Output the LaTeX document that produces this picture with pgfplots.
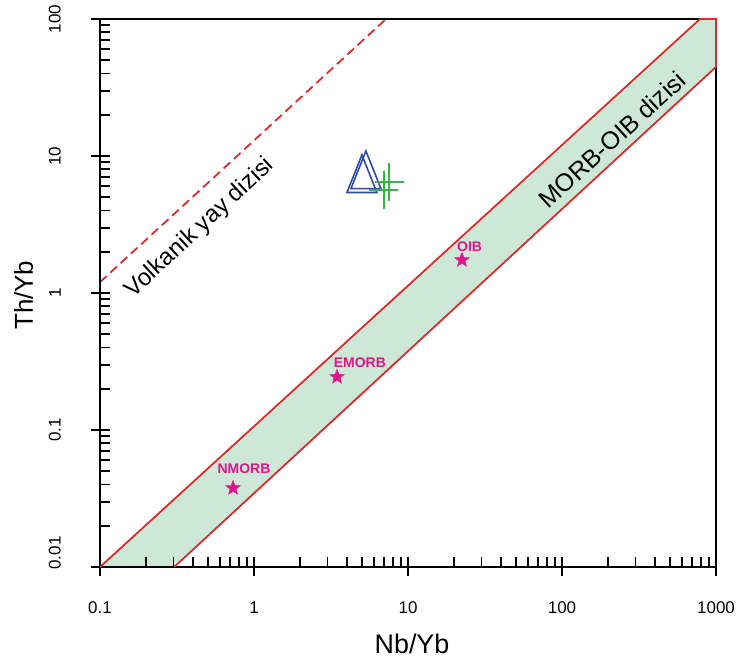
\documentclass[border=0pt]{standalone}
\usepackage{fontspec}
\setmainfont{Liberation Sans}
\usepackage{graphicx}
\usepackage{pgfplots}
\pgfplotsset{compat=1.18}
\usetikzlibrary{plotmarks}
\definecolor{bandfill}{RGB}{205,232,215}
\definecolor{bandred}{RGB}{215,45,45}
\definecolor{starmag}{RGB}{225,20,140}
\definecolor{triblue}{RGB}{45,75,165}
\definecolor{crossgreen}{RGB}{55,180,65}
\pgfdeclareplotmark{fstar}{%
 \pgfpathmoveto{\pgfqpointpolar{90}{\pgfplotmarksize}}%
 \pgfpathlineto{\pgfqpointpolar{126}{0.42\pgfplotmarksize}}%
 \pgfpathlineto{\pgfqpointpolar{162}{\pgfplotmarksize}}%
 \pgfpathlineto{\pgfqpointpolar{198}{0.42\pgfplotmarksize}}%
 \pgfpathlineto{\pgfqpointpolar{234}{\pgfplotmarksize}}%
 \pgfpathlineto{\pgfqpointpolar{270}{0.42\pgfplotmarksize}}%
 \pgfpathlineto{\pgfqpointpolar{306}{\pgfplotmarksize}}%
 \pgfpathlineto{\pgfqpointpolar{342}{0.42\pgfplotmarksize}}%
 \pgfpathlineto{\pgfqpointpolar{18}{\pgfplotmarksize}}%
 \pgfpathlineto{\pgfqpointpolar{54}{0.42\pgfplotmarksize}}%
 \pgfpathclose
 \pgfusepathqfillstroke}
\begin{document}
\begin{tikzpicture}
\begin{axis}[
  at={(0,0)}, anchor=south west,
  scale only axis, width=616bp, height=548bp,
  xmode=log, ymode=log,
  xmin=0.1, xmax=1000, ymin=0.01, ymax=100,
  xtick={0.1,1,10,100,1000}, xticklabels={0.1,1,10,100,1000},
  ytick={0.01,0.1,1,10,100},
  yticklabels={\rotatebox{90}{\hspace*{28bp}0.01},\rotatebox{90}{0.1},\rotatebox{90}{1},\rotatebox{90}{10},\rotatebox{90}{100}},
  tick pos=left,
  tick align=center,
  major tick length=18bp, minor tick length=10bp,
  minor x tick style={yshift=5bp}, minor y tick style={xshift=5bp},
  tick style={black, line width=1.8bp},
  axis line style={black, line width=2.2bp},
  tick label style={font=\fontsize{17}{20}\selectfont},
  xticklabel style={anchor=north, yshift=-22bp},
  yticklabel style={anchor=east, inner sep=0pt, xshift=-30bp},
  xlabel={Nb/Yb}, ylabel={Th/Yb},
  xlabel style={font=\fontsize{27}{30}\selectfont, at={(axis description cs:0.5065,-0.158)}, anchor=base},
  ylabel style={font=\fontsize{26}{30}\selectfont, at={(axis description cs:-0.1088,0.496)}, anchor=base},
  set layers=axis on top,
  clip=false,
]
% MORB-OIB array (band)
\addplot[fill=bandfill, draw=none] coordinates {(0.1,0.01) (0.303,0.01) (1000,44.7) (1000,100) (787,100) (0.1,0.01)};
\addplot[bandred, line width=1.8bp, on layer=axis foreground] coordinates {(0.303,0.01) (1000,44.7) (1000,100) (787,100) (0.1,0.01)};
% volcanic arc array
\addplot[bandred, line width=1.8bp, dash pattern=on 9bp off 5bp] coordinates {(0.1,1.2) (7.2,100)};
% reference compositions
\addplot[only marks, mark=fstar, mark size=7.5bp, starmag, mark options={fill=starmag, line width=0.5bp}] coordinates {(0.731,0.0377) (3.46,0.244) (22.4,1.74)};
% samples
\addplot[only marks, mark=triangle, mark size=17.3bp, triblue, mark options={yscale=1.45, line width=1.6bp}] coordinates {(5.02,6.68) (5.33,7.14)};
\addplot[only marks, mark=+, mark size=14.5bp, crossgreen, mark options={yscale=1.3, line width=1.6bp}] coordinates {(6.98,5.65) (7.54,6.46)};
% labels
\node[starmag, font=\fontsize{14}{16}\selectfont\bfseries] at (axis cs:0.861,0.0519) {NMORB};
\node[starmag, font=\fontsize{14}{16}\selectfont\bfseries] at (axis cs:4.87,0.308) {EMORB};
\node[starmag, font=\fontsize{14}{16}\selectfont\bfseries] at (axis cs:25.1,2.18) {OIB};
\node[rotate=42.8, font=\fontsize{24}{28}\selectfont] at (axis cs:0.446,2.98) {Volkanik yay dizisi};
\node[rotate=42.4, font=\fontsize{25}{28}\selectfont] at (axis cs:211,13.1) {MORB-OIB dizisi};
\end{axis}
\pgfresetboundingbox
\path[use as bounding box] (-100bp,-99bp) rectangle (639bp,567bp);
\end{tikzpicture}
\end{document}
